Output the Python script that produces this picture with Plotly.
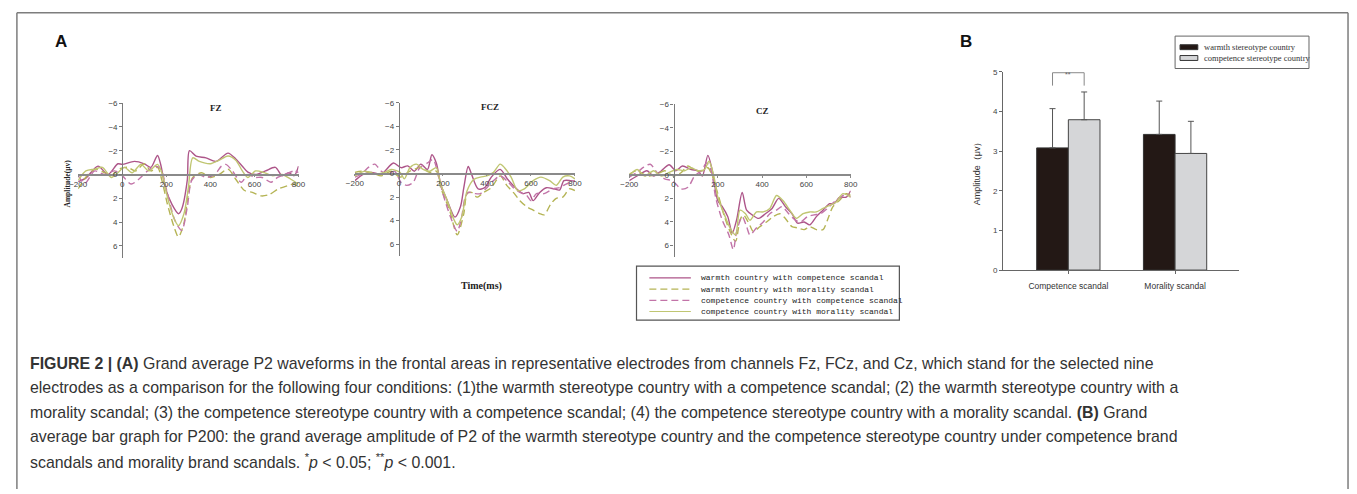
import plotly.graph_objects as go

W, H = 1357, 494

# ---------------- data ----------------
series_names = [
    "warmth country with competence scandal",
    "warmth country with morality scandal",
    "competence country with competence scandal",
    "competence country with morality scandal",
]
series_colors = ["#ad5589", "#b5b455", "#c274a8", "#c0c672"]
series_dash = ["solid", "7px,4px", "7px,4px", "solid"]

panel_titles = ["FZ", "FCZ", "CZ"]
time_ticks = [-200, 0, 200, 400, 600, 800]
amp_ticks = [-6, -4, -2, 0, 2, 4, 6]

# FZ
fz_wc_t = [-200,-165,-110,-65,-20,0,55,100,130,160,175,195,225,255,270,295,305,335,380,425,480,515,545,570,605,650,695,725,755,780,800]
fz_wc_v = [0.6,0.3,-0.7,0.0,-0.9,-0.85,-1.1,-0.9,-0.6,-1.6,-0.8,1.1,2.5,3.3,2.9,0.5,-2.0,-1.55,-1.4,-1.1,-1.8,-1.3,-0.7,-0.2,0.0,-0.3,-0.6,0.1,-0.15,0.1,-0.7]
fz_wm_t = [-200,-155,-120,-80,-50,-15,25,60,100,130,160,180,205,235,255,280,300,320,360,400,440,480,515,555,590,630,665,710,750,780,800]
fz_wm_v = [1.2,0.0,-0.45,-0.15,0.1,-0.45,-0.6,-0.3,-0.9,-0.3,-0.6,0.5,2.5,4.4,5.25,4.1,1.6,0.25,-0.15,0.25,0.0,-0.45,0.4,1.35,1.5,1.8,1.7,1.2,0.95,0.8,1.1]
fz_cc_t = [-200,-170,-125,-80,-35,0,40,75,115,150,175,205,240,270,295,315,345,380,420,450,470,500,540,570,600,635,675,705,740,780,800]
fz_cc_v = [0.1,0.75,-0.3,0.0,-0.3,0.1,0.8,0.4,-0.3,-0.7,-0.45,1.6,3.9,4.7,2.75,0.5,0.0,0.25,0.0,-0.7,-0.85,-0.3,0.65,0.0,0.25,0.25,0.65,0.25,0.0,-0.3,-0.15]
fz_cm_t = [-200,-165,-125,-90,-50,-20,10,45,85,120,160,180,205,235,255,280,300,320,350,400,440,480,515,545,570,605,645,680,725,765,800]
fz_cm_v = [0.5,-0.3,-0.45,-0.6,0.25,-0.15,-0.6,-0.15,-0.85,-0.3,-0.85,-0.15,1.9,3.7,4.3,3.3,1.1,-1.4,-1.1,-0.9,-1.2,-1.55,-1.2,-0.3,0.25,-0.3,-0.15,0.1,0.0,0.4,0.8]

# FCZ
fcz_wc_t = [-200,-160,-125,-80,-25,10,40,70,100,130,150,170,190,220,255,280,295,315,330,360,390,420,460,495,535,565,590,610,640,670,705,730,750,780,800]
fcz_wc_v = [0.6,0.05,-0.1,0.05,-0.9,-0.5,-0.65,-0.2,-0.8,-0.35,-1.6,-0.9,0.9,2.3,3.7,2.8,1.2,-0.6,0.05,1.3,1.2,0.3,-0.35,0.5,1.3,1.7,1.6,2.3,1.6,1.2,1.3,1.4,0.6,0.6,0.65]
fcz_wm_t = [-200,-170,-125,-80,-35,5,50,100,140,170,190,230,265,295,310,330,355,385,420,460,490,520,550,580,610,640,660,690,715,745,775,800]
fcz_wm_v = [-0.1,-0.2,-0.1,0.2,-0.2,0.3,-0.2,-0.5,-0.1,-0.2,1.2,3.1,5.2,3.4,1.7,1.6,2.0,1.6,1.2,0.2,1.0,1.6,2.3,2.8,3.1,3.4,3.5,2.6,2.1,2.0,1.3,1.45]
fcz_cc_t = [-200,-170,-140,-110,-80,-50,-20,10,35,65,95,130,155,175,200,235,265,285,300,315,345,370,400,430,460,490,520,550,580,600,625,660,700,730,760,800]
fcz_cc_v = [0.3,0.05,-0.5,-0.8,-0.2,0.05,-0.2,0.75,1.0,0.75,-0.5,-0.9,-1.2,-0.2,1.7,3.7,4.9,3.7,2.1,1.6,1.7,1.7,1.2,0.6,0.2,0.6,1.2,1.6,1.85,2.3,1.7,1.7,1.3,1.2,0.9,0.6]
fcz_cm_t = [-200,-155,-110,-65,-35,5,25,50,80,110,140,170,190,220,250,265,285,310,340,370,400,430,460,480,510,540,570,610,645,685,715,745,775,800]
fcz_cm_v = [0.2,-0.2,0.05,-0.1,-0.35,-0.1,0.45,-0.5,-0.8,-0.35,-0.2,-0.5,0.9,2.3,3.9,4.35,3.7,1.45,0.5,0.3,0.2,-0.1,-0.8,-0.5,0.3,1.45,1.3,0.6,0.3,0.6,1.0,0.3,0.2,0.45]

# CZ
cz_wc_t = [-200,-165,-120,-90,-55,-20,10,40,80,110,130,155,175,200,220,245,265,285,310,330,355,385,415,445,475,505,535,560,590,615,645,675,705,725,750,780,800]
cz_wc_v = [0.5,0.1,-0.35,0.1,-0.35,-0.85,-0.35,-0.75,-0.45,-0.35,0.1,-1.65,-0.35,2.2,2.7,3.55,4.95,3.8,1.5,3.0,3.4,3.7,3.3,2.85,2.0,2.7,3.3,4.1,4.0,4.25,3.55,3.0,2.45,2.45,1.9,1.9,1.35]
cz_wm_t = [-200,-165,-120,-75,-40,0,35,65,100,130,155,175,200,230,255,280,300,315,340,360,390,420,450,480,505,535,560,590,615,645,675,695,720,750,780,800]
cz_wm_v = [-0.05,-0.35,0.1,-0.05,-0.35,0.1,-0.2,-0.75,-0.35,-0.35,-0.6,0.1,1.6,3.55,4.8,5.65,3.85,3.4,4.1,4.8,4.4,4.0,3.55,3.3,3.7,4.4,4.5,4.65,4.4,4.65,4.65,3.85,2.7,2.15,1.6,1.75]
cz_cc_t = [-200,-165,-135,-105,-75,-40,-5,35,65,95,125,150,170,190,220,250,270,285,310,330,345,375,405,435,465,490,520,550,575,605,635,665,695,725,755,780,800]
cz_cc_v = [0.2,-0.2,-0.65,-0.9,-0.2,0.35,0.5,1.2,1.05,0.1,-0.35,-1.0,-0.35,1.9,3.85,5.1,6.35,4.8,3.55,4.4,5.1,4.5,4.0,3.3,3.0,2.7,3.3,3.85,4.0,3.55,3.4,3.3,2.85,2.3,1.9,1.6,1.9]
cz_cm_t = [-200,-165,-130,-90,-55,-20,15,50,80,110,140,160,180,200,230,255,280,300,325,345,375,405,435,465,495,525,555,585,615,645,675,705,735,765,800]
cz_cm_v = [0.1,-0.45,0.1,-0.35,0.1,-0.2,-0.45,-0.35,-0.6,-0.35,-0.45,-1.15,-0.05,1.9,3.4,4.5,5.1,3.0,3.3,3.85,3.15,3.15,2.85,1.75,2.2,3.0,3.7,3.3,3.15,3.15,2.85,2.6,2.3,1.6,1.9]

# Bar chart (B)
bar_categories = ["Competence scandal", "Morality scandal"]
bar_names = ["warmth stereotype country", "competence stereotype country"]
warmth_amp = [3.08, 3.42]
warmth_err = [0.99, 0.84]
competence_amp = [3.79, 2.94]
competence_err = [0.70, 0.81]
bar_ticks = [0, 1, 2, 3, 4, 5]

caption_lines = [
    "<b>FIGURE 2 | (A)</b> Grand average P2 waveforms in the frontal areas in representative electrodes from channels Fz, FCz, and Cz, which stand for the selected nine",
    "electrodes as a comparison for the following four conditions: (1)the warmth stereotype country with a competence scandal; (2) the warmth stereotype country with a",
    "morality scandal; (3) the competence stereotype country with a competence scandal; (4) the competence stereotype country with a morality scandal. <b>(B)</b> Grand",
    "average bar graph for P200: the grand average amplitude of P2 of the warmth stereotype country and the competence stereotype country under competence brand",
    "scandals and morality brand scandals. <sup>*</sup><i>p</i> &lt; 0.05; <sup>**</sup><i>p</i> &lt; 0.001.",
]

panels = [
    [(fz_wc_t, fz_wc_v), (fz_wm_t, fz_wm_v), (fz_cc_t, fz_cc_v), (fz_cm_t, fz_cm_v)],
    [(fcz_wc_t, fcz_wc_v), (fcz_wm_t, fcz_wm_v), (fcz_cc_t, fcz_cc_v), (fcz_cm_t, fcz_cm_v)],
    [(cz_wc_t, cz_wc_v), (cz_wm_t, cz_wm_v), (cz_cc_t, cz_cc_v), (cz_cm_t, cz_cm_v)],
]

# ---------------- layout helpers ----------------
def px(x):
    return x / W

def py(y):
    return 1 - y / H

# pixel geometry of the three ERP panels:
# (x at -200, x at 800, x of t=0, y at -6, y at 0, y at 7, title x, title y)
geom = [
    (70, 293, 114.6, 101.0, 173.7, 258.4, 201, 99),
    (350, 572.7, 394.5, 100.7, 172.7, 256.7, 487, 98),
    (627.7, 851.7, 672.5, 102.0, 174.0, 258.0, 762, 102),
]

fig = go.Figure()
layout = dict(
    width=W, height=H, margin=dict(l=0, r=0, t=0, b=0),
    paper_bgcolor="white", plot_bgcolor="white", showlegend=False,
    barmode="group", bargap=0.407, bargroupgap=0,
)
annotations = []
shapes = []

tick_font = dict(family="Liberation Sans, Arial", size=8, color="#444")
serif_b = "Liberation Serif, Times New Roman"

for i, (pdata, g) in enumerate(zip(panels, geom)):
    k = "" if i == 0 else str(i + 1)
    xl, xr, x0, ytop, yzero, ybot, tx, ty = g
    for j, (t, v) in enumerate(pdata):
        fig.add_trace(go.Scatter(
            x=t, y=v, mode="lines", name=series_names[j],
            xaxis="x" + k, yaxis="y" + k,
            line=dict(color=series_colors[j], width=1.4, dash=series_dash[j], shape="spline", smoothing=0.8),
            hoverinfo="skip",
        ))
    layout["xaxis" + k] = dict(
        domain=[px(xl), px(xr)], range=[-200, 800], anchor="free", position=py(yzero),
        showline=True, linecolor="#8a8a8a", linewidth=1.5, ticks="outside", ticklen=2,
        tickcolor="#8a8a8a", tickvals=time_ticks, tickfont=tick_font,
        showgrid=False, zeroline=False,
    )
    layout["yaxis" + k] = dict(
        domain=[py(ybot), py(ytop)], range=[7, -6], anchor="free", position=px(x0),
        showline=True, linecolor="#7a7a7a", linewidth=1.2, ticks="outside", ticklen=3,
        tickcolor="#7a7a7a", tickvals=amp_ticks, tickfont=tick_font,
        showgrid=False, zeroline=False,
    )
    annotations.append(dict(
        x=px(tx), y=py(ty), xref="paper", yref="paper", text="<b>%s</b>" % panel_titles[i],
        showarrow=False, font=dict(family=serif_b, size=9, color="#222"),
    ))

# ERP axis labels
annotations.append(dict(x=px(53), y=py(183), xref="paper", yref="paper", text="<b>Amplitude(μv)</b>",
                        textangle=-90, showarrow=False, font=dict(family=serif_b, size=7.5, color="#222")))
annotations.append(dict(x=px(478), y=py(287), xref="paper", yref="paper", text="<b>Time(ms)</b>",
                        showarrow=False, font=dict(family=serif_b, size=10, color="#222")))

# ERP legend (box, samples, labels)
shapes.append(dict(type="rect", xref="paper", yref="paper", x0=px(635), x1=px(901), y0=py(322), y1=py(267),
                   line=dict(color="#555", width=1.2), fillcolor="rgba(0,0,0,0)"))
for j, name in enumerate(series_names):
    yy = 279 + j * 11.4
    shapes.append(dict(type="line", xref="paper", yref="paper", x0=px(648), x1=px(690), y0=py(yy), y1=py(yy),
                       line=dict(color=series_colors[j], width=1.2, dash=series_dash[j])))
    annotations.append(dict(x=px(698), y=py(yy), xref="paper", yref="paper", text=name, xanchor="left",
                            yanchor="middle", showarrow=False,
                            font=dict(family="Liberation Mono, DejaVu Sans Mono", size=8, color="#222")))

# ---------------- bar chart ----------------
fig.add_trace(go.Bar(
    x=bar_categories, y=warmth_amp, name=bar_names[0], xaxis="x4", yaxis="y4",
    marker=dict(color="#231815", line=dict(color="#333", width=1)),
    error_y=dict(type="data", symmetric=False, array=warmth_err, arrayminus=[0] * len(warmth_err),
                 color="#555", thickness=1, width=3),
))
fig.add_trace(go.Bar(
    x=bar_categories, y=competence_amp, name=bar_names[1], xaxis="x4", yaxis="y4",
    marker=dict(color="#d5d6d8", line=dict(color="#444", width=1)),
    error_y=dict(type="data", symmetric=False, array=competence_err, arrayminus=[0] * len(competence_err),
                 color="#555", thickness=1, width=3),
))
layout["xaxis4"] = dict(
    domain=[px(1006), px(1245)], anchor="y4", type="category", range=[-0.611, 1.602],
    showline=True, linecolor="#666", linewidth=1, ticks="outside", ticklen=3, tickcolor="#666",
    tickfont=dict(family="Liberation Sans, Arial", size=8.5, color="#333"), ticklabelstandoff=5,
    showgrid=False, zeroline=False,
)
layout["yaxis4"] = dict(
    domain=[py(271), py(69)], anchor="x4", range=[0, 5], tickvals=bar_ticks,
    showline=True, linecolor="#666", linewidth=1, ticks="outside", ticklen=3, tickcolor="#666",
    tickfont=dict(family="Liberation Sans, Arial", size=8, color="#444"),
    showgrid=False, zeroline=False,
)
annotations.append(dict(x=px(987), y=py(170), xref="paper", yref="paper", text="Amplitude（μv）",
                        textangle=-90, showarrow=False,
                        font=dict(family="Liberation Sans, Arial", size=9, color="#333")))
# significance bracket between the two bars of the first category
half = (1 - 0.407) / 4
for (xa, ya, xb, yb) in [(-half, 4.65, -half, 4.975), (-half, 4.975, half, 4.975), (half, 4.975, half, 4.65)]:
    shapes.append(dict(type="line", xref="x4", yref="y4", x0=xa, y0=ya, x1=xb, y1=yb,
                       line=dict(color="#888", width=1)))
annotations.append(dict(x=0, y=py(66), xref="x4", yref="paper", text="**", showarrow=False,
                        font=dict(family="Liberation Sans, Arial", size=7, color="#666")))

# bar legend
shapes.append(dict(type="rect", xref="paper", yref="paper", x0=px(1180), x1=px(1315.5), y0=py(65.7), y1=py(32.7),
                   line=dict(color="#666", width=1), fillcolor="rgba(0,0,0,0)"))
bar_fill = ["#231815", "#d5d6d8"]
for j, name in enumerate(bar_names):
    yy = 44 + j * 11
    shapes.append(dict(type="rect", xref="paper", yref="paper", x0=px(1185), x1=px(1203), y0=py(yy + 2.5),
                       y1=py(yy - 2.5), line=dict(color="#333", width=1), fillcolor=bar_fill[j]))
    annotations.append(dict(x=px(1207), y=py(yy), xref="paper", yref="paper", text=name, xanchor="left",
                            yanchor="middle", showarrow=False,
                            font=dict(family=serif_b, size=8.5, color="#333")))

# panel letters
annotations.append(dict(x=px(45), y=py(38), xref="paper", yref="paper", text="<b>A</b>", xanchor="left",
                        yanchor="middle", showarrow=False,
                        font=dict(family="Liberation Sans, Arial", size=17, color="#111")))
annotations.append(dict(x=px(960), y=py(38), xref="paper", yref="paper", text="<b>B</b>", xanchor="left",
                        yanchor="middle", showarrow=False,
                        font=dict(family="Liberation Sans, Arial", size=17, color="#111")))

# outer frame (open at the bottom)
for (xa, ya, xb, yb) in [(8, 9, 1355, 9), (8, 9, 8, 494), (1355, 9, 1355, 494)]:
    shapes.append(dict(type="line", xref="paper", yref="paper", x0=px(xa), y0=py(ya), x1=px(xb), y1=py(yb),
                       line=dict(color="#7d7d7d", width=1.5)))

# caption
for i, line in enumerate(caption_lines):
    annotations.append(dict(x=px(19), y=py(366 + i * 24.8), xref="paper", yref="paper", text=line,
                            xanchor="left", yanchor="middle", showarrow=False, align="left",
                            font=dict(family="Liberation Sans, Arial", size=15.9, color="#333")))

layout["annotations"] = annotations
layout["shapes"] = shapes
fig.update_layout(**layout)
fig.write_html("out.html")
